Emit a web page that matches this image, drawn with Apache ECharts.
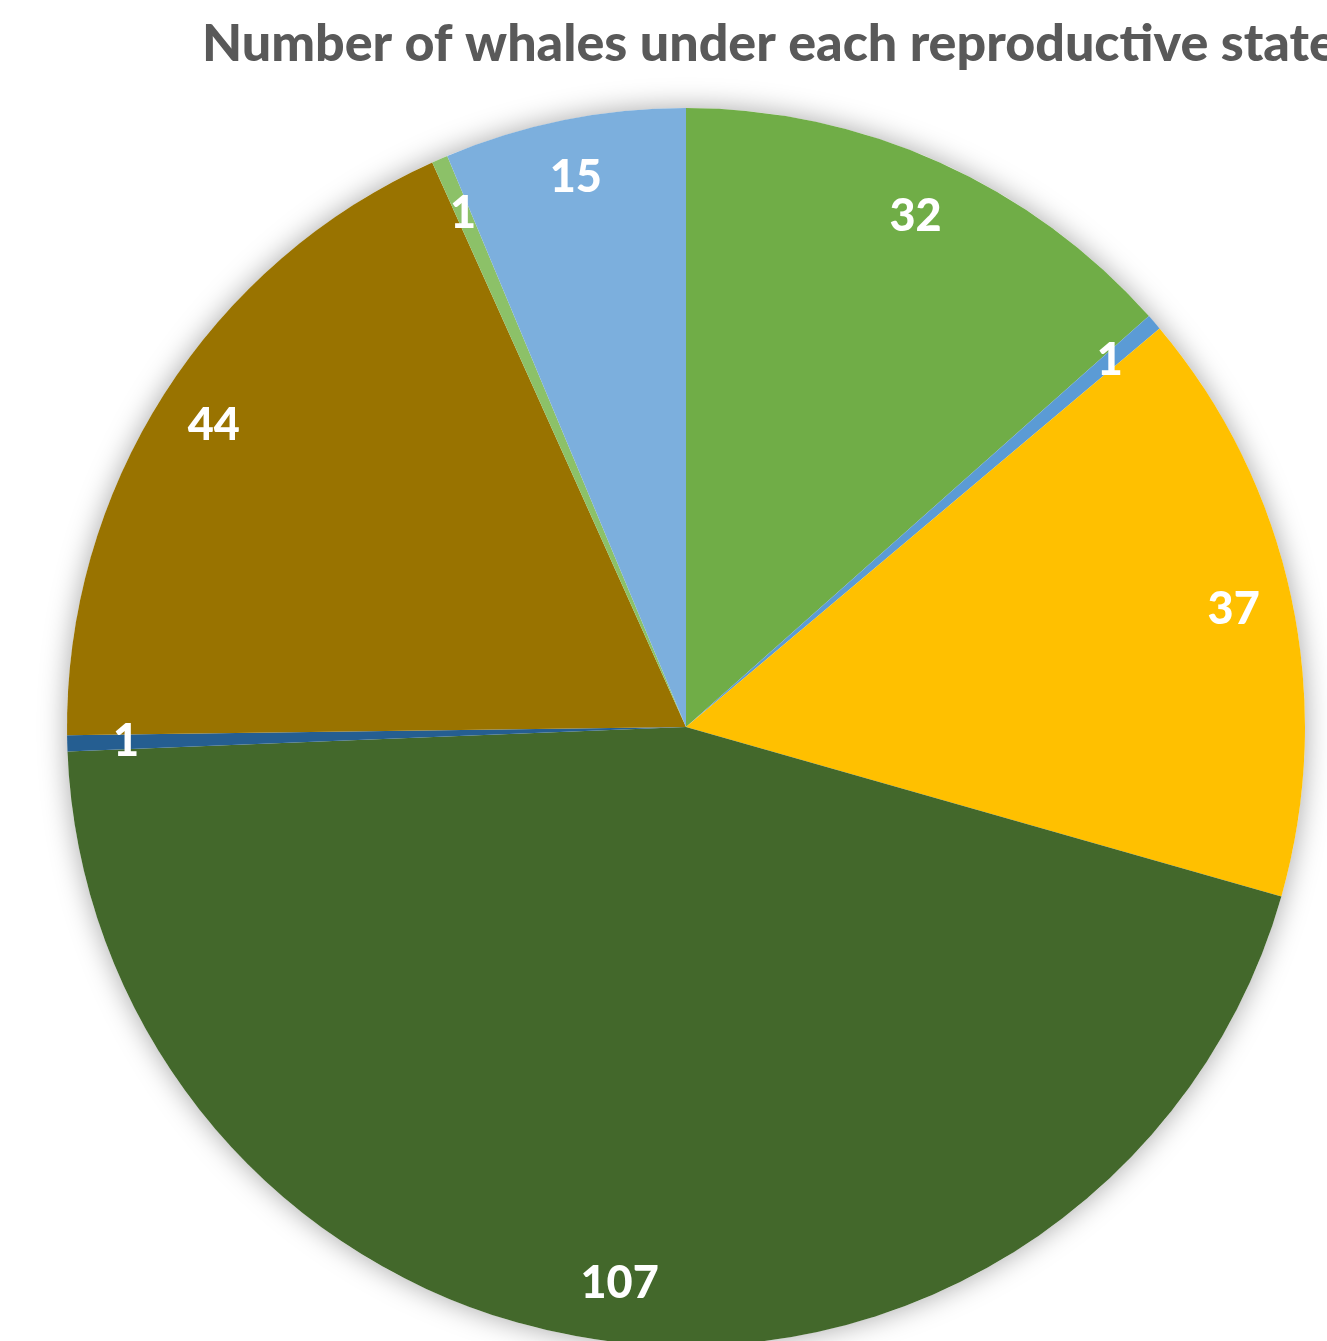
<!DOCTYPE html>
<html>
<head>
<meta charset="utf-8">
<script src="https://cdn.jsdelivr.net/npm/echarts@6/dist/echarts.min.js"></script>
<style>
html,body{margin:0;padding:0;background:#fff;}
#c{width:1327px;height:1341px;}
</style>
</head>
<body>
<div id="c"></div>
<script>
const titleText = "Number of whales under each reproductive state";
const categories = ["State 1","State 2","State 3","State 4","State 5","State 6","State 7","State 8"];
const values = [32, 1, 37, 107, 1, 44, 1, 15];
const colors = ["#70AD47","#5B9BD5","#FFC000","#43682B","#255E91","#997300","#8CC168","#7CAFDD"];

const cx = 686, cy = 727, R = 619;
const chart = echarts.init(document.getElementById('c'), null, {renderer:'canvas'});
const sliceData = categories.map((n,i)=>({name:n, value:values[i], itemStyle:{color:colors[i]}}));
chart.setOption({
  animation:false,
  backgroundColor:'#ffffff',
  title:{
    text:titleText, left:197, top:13,
    textStyle:{fontFamily:'Lato', fontWeight:900, fontSize:52, color:'#595959'}
  },
  series:[
    {
      type:'pie', silent:true, z:1,
      center:[cx,cy], radius:[0,R],
      label:{show:false}, labelLine:{show:false},
      data:[{value:1, itemStyle:{color:'#ffffff', shadowBlur:28, shadowColor:'rgba(0,0,0,0.35)'}}]
    },
    {
      type:'pie', z:2, silent:true,
      center:[cx,cy], radius:[0,R], startAngle:90, clockwise:true,
      avoidLabelOverlap:false,
      label:{show:false}, labelLine:{show:false},
      itemStyle:{borderWidth:0},
      data:sliceData
    },
    {
      type:'pie', z:3, silent:true,
      center:[cx,cy], radius:[R*0.8,R], startAngle:90, clockwise:true,
      avoidLabelOverlap:false,
      labelLine:{show:false},
      label:{show:true, position:'inside', formatter:'{c}', color:'#ffffff',
        fontFamily:'Lato', fontWeight:900, fontSize:45},
      itemStyle:{color:'rgba(0,0,0,0)', borderWidth:0},
      data:categories.map((n,i)=>({name:n, value:values[i]}))
    }
  ]
});
</script>
</body>
</html>
